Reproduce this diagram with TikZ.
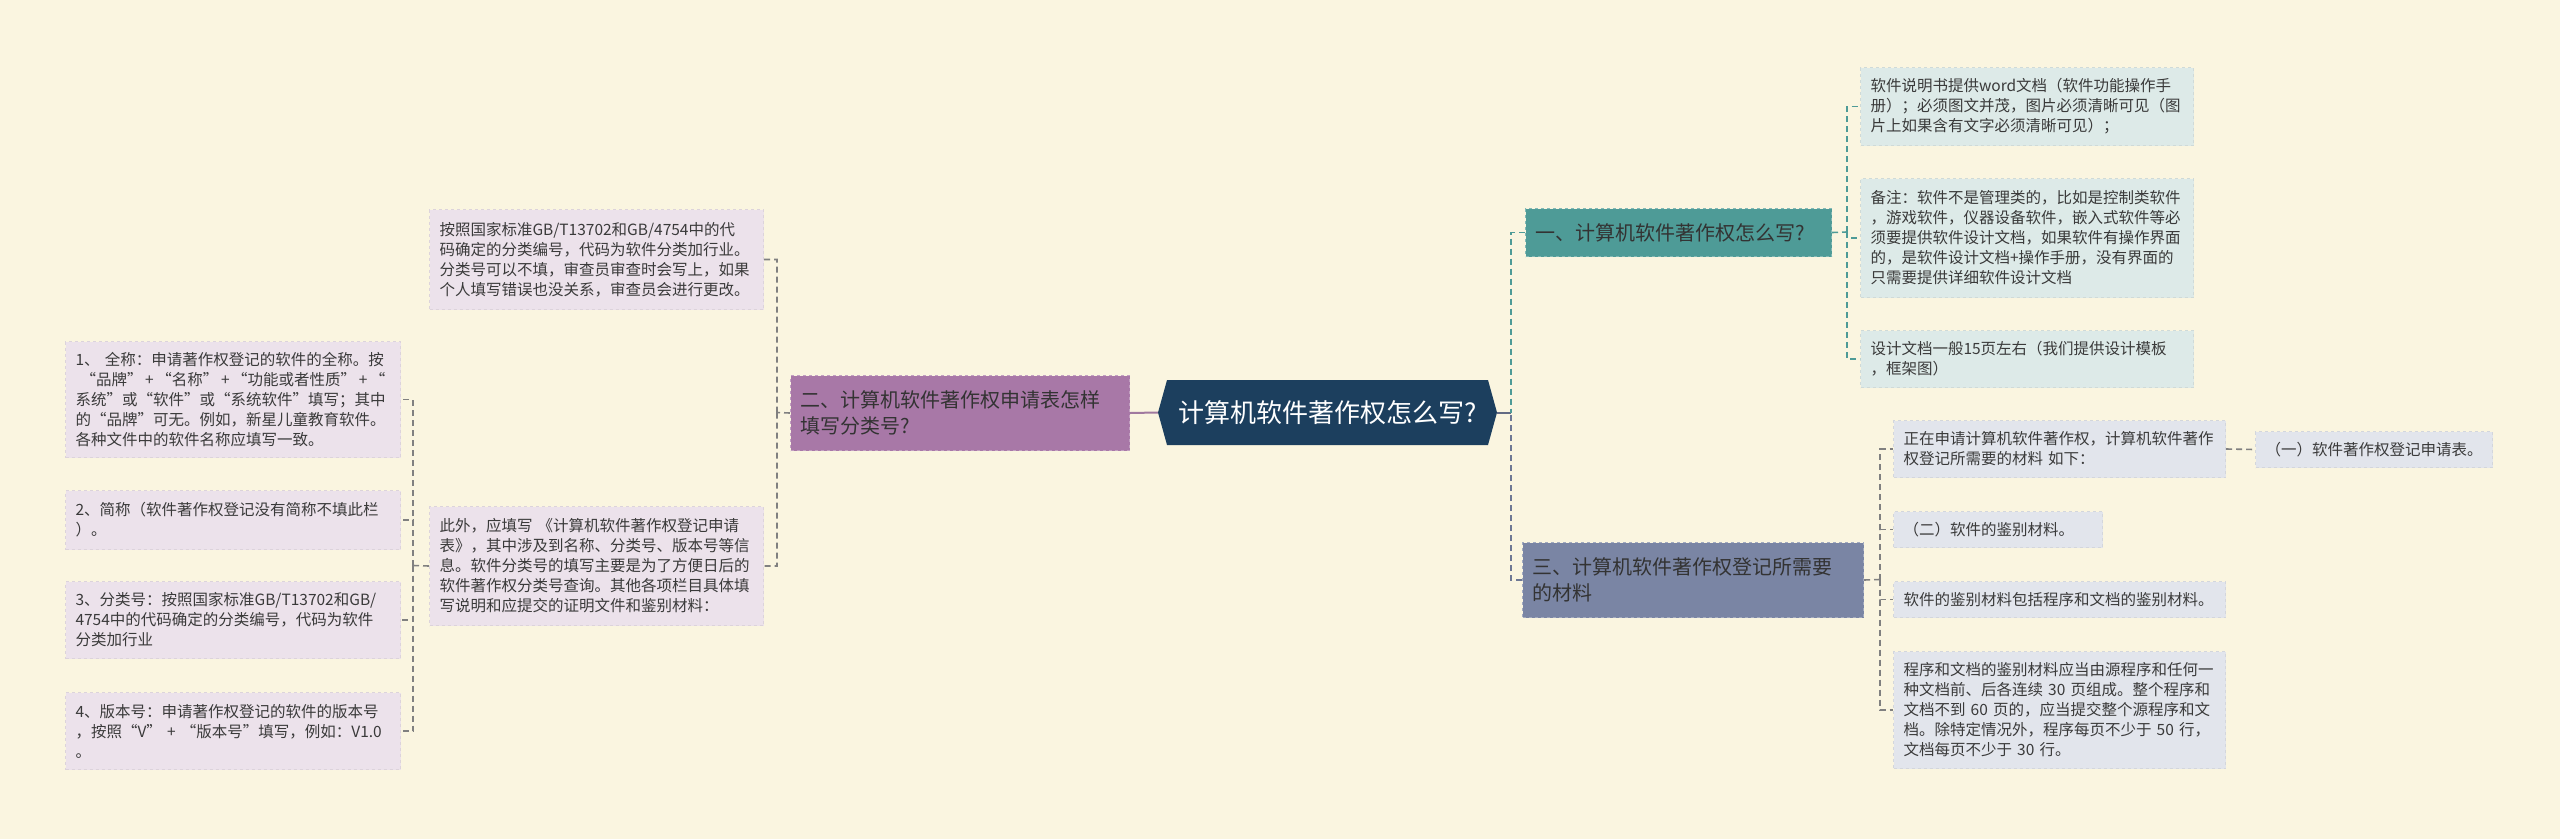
\documentclass[tikz,border=0pt]{standalone}
\usepackage{fontspec}
\setmainfont{Noto Sans CJK SC}
\usetikzlibrary{shapes.symbols}
\definecolor{bgc}{HTML}{FAF5E0}
\definecolor{rootc}{HTML}{1C3F5E}
\definecolor{purc}{HTML}{A878A7}
\definecolor{tealc}{HTML}{4E9B97}
\definecolor{slatec}{HTML}{7A85A4}
\definecolor{lpc}{HTML}{ECE2EB}
\definecolor{ltc}{HTML}{DDEAE8}
\definecolor{lsc}{HTML}{E2E5EC}
\definecolor{txtc}{HTML}{3A3A3A}
\newcommand\leaffont{\fontsize{15.5}{20}\selectfont}
\newcommand\brfont{\fontsize{20}{26}\selectfont}
\begin{document}
\begin{tikzpicture}[x=1pt,y=-1pt,
    box/.style={anchor=north west,inner xsep=10pt,inner ysep=3pt,align=left,
      dashed,line width=1pt,text=txtc},
    leafp/.style={box,font=\leaffont,fill=lpc,draw=lpc!85!gray},
    leaft/.style={box,font=\leaffont,fill=ltc,draw=ltc!85!gray},
    leafs/.style={box,font=\leaffont,fill=lsc,draw=lsc!85!gray},
    brp/.style={box,font=\brfont,fill=purc,draw=purc!70!white,text=black!80},
    brt/.style={box,font=\brfont,fill=tealc,draw=tealc!70!white,text=black!80},
    brs/.style={box,font=\brfont,fill=slatec,draw=slatec!70!white,text=black!80},
    link/.style={dashed,dash pattern=on 6pt off 4pt,line width=1.6pt}]
  \useasboundingbox (0,0) rectangle (2560,839);
  \fill[bgc] (0,0) rectangle (2560,839);
  % centro
  \node[signal,signal to=west and east,signal pointer angle=149,fill=rootc,
        text=white,font=\fontsize{26}{30}\selectfont,minimum width=339pt,
        minimum height=65pt,inner sep=0pt] (root) at (1327.5,412.5)
        {计算机软件著作权怎么写?};
  % ramas
  \node[brp,text width=319pt,minimum height=75pt] (br2) at (790,375)
    {二、计算机软件著作权申请表怎样\\填写分类号?};
  \node[brt,text width=286pt,minimum height=48pt] (br1) at (1525,208)
    {一、计算机软件著作权怎么写?};
  \node[brs,text width=321pt,minimum height=75pt] (br3) at (1522,542)
    {三、计算机软件著作权登记所需要\\的材料};
  % hojas izquierda
  \node[leafp,text width=314pt,minimum height=100pt] (p1) at (429,209)
    {按照国家标准GB/T13702和GB/4754中的代\\码确定的分类编号，代码为软件分类加行业。\\分类号可以不填，审查员审查时会写上，如果\\个人填写错误也没关系，审查员会进行更改。};
  \node[leafp,text width=314pt,minimum height=119pt] (p2) at (429,506)
    {此外，应填写 《计算机软件著作权登记申请\\表》，其中涉及到名称、分类号、版本号等信\\息。软件分类号的填写主要是为了方便日后的\\软件著作权分类号查询。其他各项栏目具体填\\写说明和应提交的证明文件和鉴别材料：};
  \node[leafp,text width=315pt,minimum height=116pt] (l1) at (65,341)
    {1、 全称：申请著作权登记的软件的全称。按\\\mbox{\ “品牌”\,+\,“名称”\,+\,“功能或者性质”\,+\,“}\\系统”或“软件”或“系统软件”填写；其中\\的“品牌”可无。例如，新星儿童教育软件。\\各种文件中的软件名称应填写一致。};
  \node[leafp,text width=315pt,minimum height=59pt] (l2) at (65,490)
    {2、简称（软件著作权登记没有简称不填此栏\\）。};
  \node[leafp,text width=315pt,minimum height=77pt] (l3) at (65,581)
    {3、分类号：按照国家标准GB/T13702和GB/\\4754中的代码确定的分类编号，代码为软件\\分类加行业};
  \node[leafp,text width=315pt,minimum height=77pt] (l4) at (65,692)
    {4、版本号：申请著作权登记的软件的版本号\\\mbox{，按照“V” + “版本号”填写，例如：V1.0}\\。};
  % hojas derecha
  \node[leaft,text width=313pt,minimum height=78pt] (t1) at (1860,67)
    {软件说明书提供word文档（软件功能操作手\\册）；必须图文并茂，图片必须清晰可见（图\\片上如果含有文字必须清晰可见）；};
  \node[leaft,text width=313pt,minimum height=119pt] (t2) at (1860,178)
    {备注：软件不是管理类的，比如是控制类软件\\，游戏软件，仪器设备软件，嵌入式软件等必\\须要提供软件设计文档，如果软件有操作界面\\的，是软件设计文档+操作手册，没有界面的\\只需要提供详细软件设计文档};
  \node[leaft,text width=313pt,minimum height=57pt] (t3) at (1860,330)
    {设计文档一般15页左右（我们提供设计模板\\，框架图）};
  \node[leafs,text width=312pt,minimum height=57pt] (s1) at (1893,420)
    {正在申请计算机软件著作权，计算机软件著作\\权登记所需要的材料 如下：};
  \node[leafs,text width=217pt,minimum height=36pt] (s1a) at (2255,431)
    {（一）软件著作权登记申请表。};
  \node[leafs,text width=189pt,minimum height=36pt] (s2) at (1893,511)
    {（二）软件的鉴别材料。};
  \node[leafs,text width=312pt,minimum height=36pt] (s3) at (1893,581)
    {软件的鉴别材料包括程序和文档的鉴别材料。};
  \node[leafs,text width=312pt,minimum height=117pt] (s4) at (1893,651)
    {程序和文档的鉴别材料应当由源程序和任何一\\种文档前、后各连续 30 页组成。整个程序和\\文档不到 60 页的，应当提交整个源程序和文\\档。除特定情况外，程序每页不少于 50 行，\\文档每页不少于 30 行。};
  % conectores
  \coordinate (jr) at (1511,412.5);
  \coordinate (jp) at (777,412.5);
  \coordinate (jl) at (413,565.5);
  \coordinate (jt) at (1847,232);
  \coordinate (js) at (1880,579.5);
  \draw[line width=2pt,color=purc!80!gray] (br2.east) -- (root.west);
  \draw[line width=2pt,color=slatec!80!black] (root.east) -- (jr);
  \draw[link,tealc] (br1.west) -| (jr);
  \draw[link,slatec!90!black] (br3.west) -| (jr);
  \draw[link,gray] (br2.west) -- (jp) (jp) |- (p1.east) (jp) |- (p2.east);
  \draw[link,gray] (p2.west) -- (jl);
  \foreach \n in {l1,l2,l3,l4}
    \draw[link,gray] (jl) |- (\n.east);
  \draw[link,tealc] (br1.east) -- (jt);
  \foreach \n in {t1,t2,t3}
    \draw[link,tealc] (jt) |- (\n.west);
  \draw[link,gray] (br3.east) -- (js);
  \foreach \n in {s1,s2,s3,s4}
    \draw[link,gray] (js) |- (\n.west);
  \draw[link,gray] (s1.east) -- (s1a.west);
\end{tikzpicture}
\end{document}
